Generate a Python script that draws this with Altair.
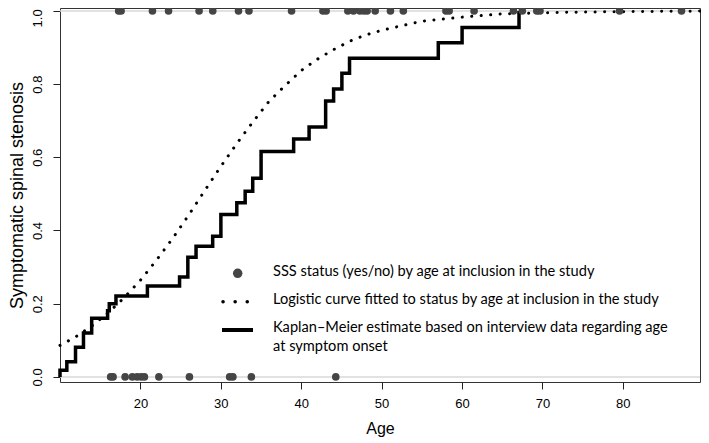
import altair as alt
import pandas as pd

# Points: SSS status (1 = yes, 0 = no) by age at inclusion
yes_ages = [17.3, 17.6, 21.5, 23.5, 27.3, 29.0, 32.2, 33.5, 38.8, 42.7, 43.1,
            45.8, 46.5, 47.3, 47.8, 48.2, 49.2, 51.1, 52.7, 58.0, 58.4, 61.5,
            66.4, 67.5, 69.3, 69.7, 79.6, 87.3]
no_ages = [16.3, 16.6, 18.1, 19.0, 19.6, 20.1, 20.5, 22.3, 26.1, 31.1, 31.5,
           33.8, 44.3]

# Logistic curve
logit_age = [10, 12, 14, 16, 18, 20, 22, 24, 26, 28, 30, 32, 34, 36, 38, 40,
             42, 44, 46, 48, 50, 55, 60, 65, 70, 75, 80, 85, 89.6]
logit_p = [0.086, 0.110, 0.140, 0.175, 0.217, 0.264, 0.319, 0.378, 0.442,
           0.509, 0.575, 0.638, 0.697, 0.753, 0.796, 0.837, 0.868, 0.894,
           0.917, 0.934, 0.947, 0.972, 0.983, 0.992, 0.995, 0.997, 0.998,
           0.999, 0.9995]

# Kaplan-Meier estimate (step function)
km_age = [10.0, 10.0, 10.85, 11.93, 12.92, 13.94, 15.92, 16.13, 16.96, 20.87,
          24.87, 25.90, 26.92, 28.99, 30.01, 31.99, 33.03, 33.97, 35.01,
          39.06, 40.98, 43.04, 44.03, 45.06, 46.01, 57.05, 60.01, 67.09]
km_est = [0.0, 0.018, 0.041, 0.081, 0.120, 0.160, 0.181, 0.200, 0.221, 0.248,
          0.273, 0.327, 0.357, 0.384, 0.444, 0.476, 0.507, 0.543, 0.616,
          0.650, 0.683, 0.754, 0.787, 0.830, 0.871, 0.913, 0.955, 1.0]

ref_levels = [0, 1]
y_ticks = [0.0, 0.2, 0.4, 0.6, 0.8, 1.0]
x_ticks = [20, 30, 40, 50, 60, 70, 80]

legend_labels = [
    "SSS status (yes/no) by age at inclusion in the study",
    "Logistic curve fitted to status by age at inclusion in the study",
    "Kaplan\u2013Meier estimate based on interview data regarding age",
    "at symptom onset",
]
legend_y = [263.7, 292, 320.3, 339.3]

pts = pd.DataFrame({"age": yes_ages + no_ages,
                    "status": [1] * len(yes_ages) + [0] * len(no_ages)})
logit = pd.DataFrame({"age": logit_age, "p": logit_p})
km = pd.DataFrame({"age": km_age, "est": km_est, "i": list(range(len(km_age)))})
refs = pd.DataFrame({"y": ref_levels})

xs = alt.Scale(domain=[10, 89.6], nice=False, zero=False)
ys = alt.Scale(domain=[-0.014, 1.008], nice=False, zero=False)

x_axis = alt.Axis(values=x_ticks, title="Age", grid=False, domain=False,
                  tickSize=7, labelPadding=8, titlePadding=10,
                  labelFontSize=13, titleFontSize=16)
y_axis = alt.Axis(values=y_ticks, format=".1f", title="Symptomatic spinal stenosis",
                  grid=False, domain=False, tickSize=7, labelPadding=9,
                  labelAngle=-90, labelAlign="center", labelBaseline="bottom",
                  labelOffset={"expr": "datum.value == 1 ? 7 : 0"},
                  titlePadding=5, labelFontSize=13, titleFontSize=18)

ref = alt.Chart(refs).mark_rule(color="#d9d9d9", strokeWidth=1.5).encode(
    y=alt.Y("y:Q", scale=ys, axis=y_axis))

logit_line = alt.Chart(logit).mark_line(
    color="black", strokeWidth=3, strokeDash=[0.1, 9.4], strokeCap="round"
).encode(x=alt.X("age:Q", scale=xs, axis=x_axis), y=alt.Y("p:Q", scale=ys))

km_line = alt.Chart(km).mark_line(
    color="black", strokeWidth=3.5, interpolate="step-after", strokeJoin="miter"
).encode(x=alt.X("age:Q", scale=xs), y=alt.Y("est:Q", scale=ys), order="i:Q")

points = alt.Chart(pts).mark_circle(color="#454545", opacity=1, size=58).encode(
    x=alt.X("age:Q", scale=xs), y=alt.Y("status:Q", scale=ys))

# Legend (manual)
leg_font = "Lato"
leg_texts = [
    alt.Chart(pd.DataFrame({"t": [lab]})).mark_text(
        align="left", baseline="middle", font=leg_font, fontSize=14.6, color="black"
    ).encode(x=alt.value(213), y=alt.value(yy), text="t:N")
    for lab, yy in zip(legend_labels, legend_y)
]

leg_pt = alt.Chart(pd.DataFrame({"a": [0]})).mark_circle(color="#454545", opacity=1, size=90).encode(
    x=alt.value(177.7), y=alt.value(265.3))
leg_dot = alt.Chart(pd.DataFrame({"a": [0]})).mark_rule(
    color="black", strokeWidth=3.5, strokeDash=[0.1, 12], strokeCap="round").encode(
    x=alt.value(163), x2=alt.value(188), y=alt.value(293.7))
leg_line = alt.Chart(pd.DataFrame({"a": [0]})).mark_rule(
    color="black", strokeWidth=4).encode(
    x=alt.value(162), x2=alt.value(193), y=alt.value(322))

chart = alt.layer(ref, logit_line, km_line, points, *leg_texts, leg_pt, leg_dot, leg_line).properties(
    width=640, height=374,
    autosize=alt.AutoSizeParams(type="none"),
    padding={"left": 52, "top": 0, "right": 1, "bottom": 57},
).configure_view(stroke="#333333", strokeWidth=1).configure_axis(
    labelFont="Liberation Sans", titleFont="Liberation Sans",
    labelColor="black", titleColor="black", tickColor="#222222",
    titleFontWeight="normal"
)

chart.save("out.html", embed_options={"renderer": "svg", "actions": False})
